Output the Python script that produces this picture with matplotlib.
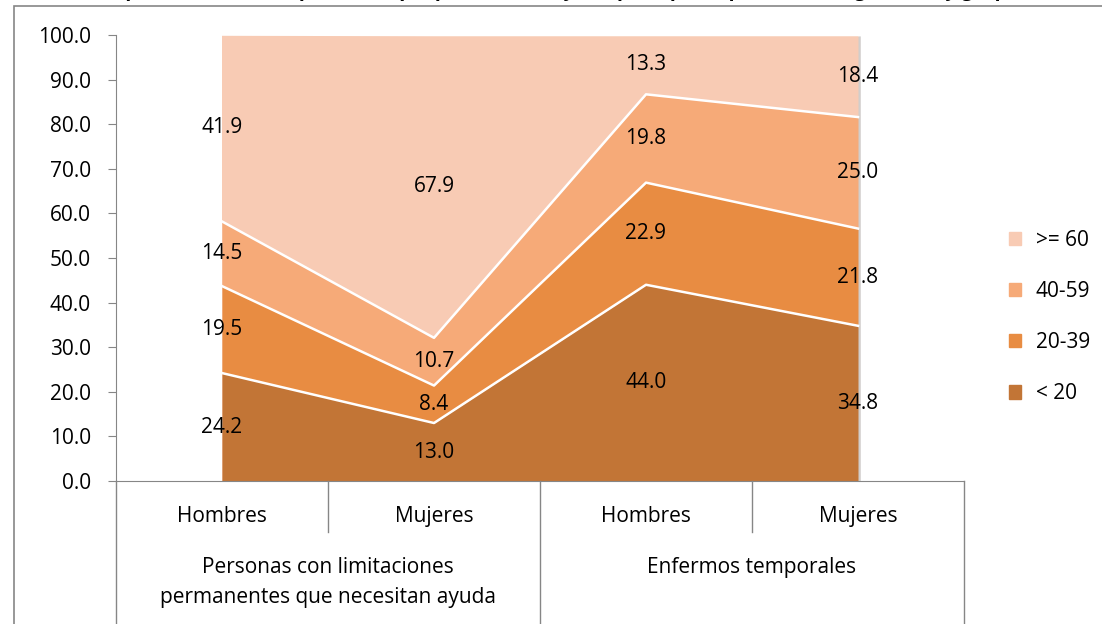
import numpy as np
import matplotlib.pyplot as plt
from matplotlib.patches import Patch, Rectangle
from matplotlib import patheffects as pe
import matplotlib.transforms as mtransforms

plt.rcParams['font.family'] = ['Open Sans', 'DejaVu Sans']

# datos: porcentaje por grupo de edad
categorias = ['Hombres', 'Mujeres', 'Hombres', 'Mujeres']
grupos = ['Personas con limitaciones\npermanentes que necesitan ayuda', 'Enfermos temporales']
edades = ['< 20', '20-39', '40-59', '>= 60']
menor_20 = [24.2, 13.0, 44.0, 34.8]
e20_39 = [19.5, 8.4, 22.9, 21.8]
e40_59 = [14.5, 10.7, 19.8, 25.0]
mayor_60 = [41.9, 67.9, 13.3, 18.4]
colores = ['#C27536', '#E88C42', '#F6AA78', '#F8CBB4']

titulo = ('Distribución porcentual de las personas que precisan de ayuda por tipo de problema, '
          'según sexo y grupo de edad')

series = np.array([menor_20, e20_39, e40_59, mayor_60])
x = np.arange(len(categorias))
fs = 15

fig = plt.figure(figsize=(11.02, 6.24), dpi=100)
ax = fig.add_axes([116/1102, 1-481/624, (964-116)/1102, (481-35)/624])

# sombra bajo el conjunto apilado
total = series.sum(axis=0)
ax.fill_between(x, 0, total, color=colores[3], lw=0, zorder=1,
                path_effects=[pe.SimplePatchShadow(offset=(2, -1), alpha=0.25), pe.Normal()])

base = np.zeros(len(x))
for i, s in enumerate(series):
    top = base + s
    ax.fill_between(x, base, top, color=colores[i], lw=0, zorder=2)
    ax.plot(x, top, color='white', lw=1.8, zorder=3)
    for j in range(len(x)):
        ax.text(x[j], base[j] + s[j]/2, f'{s[j]:.1f}',
                ha='center', va='center', fontsize=fs, color='black', zorder=4)
    base = top

ax.set_xlim(-0.5, 3.5)
ax.set_ylim(0, 100)
ax.set_yticks(np.arange(0, 101, 10))
ax.set_yticklabels([f'{v:.1f}' for v in np.arange(0, 101, 10)], fontsize=fs)
ax.set_xticks([])
for lado in ['top', 'right']:
    ax.spines[lado].set_visible(False)
for lado in ['left', 'bottom']:
    ax.spines[lado].set_color('#868686')
ax.tick_params(axis='y', length=6, color='#868686', pad=12)

# ejes de categorías en dos niveles
trans = mtransforms.blended_transform_factory(ax.transData, ax.transAxes)
for xs in [0.5, 2.5]:
    ax.plot([xs, xs], [0, -0.115], transform=trans, color='#868686', lw=1, clip_on=False)
for xs in [-0.5, 1.5, 3.5]:
    ax.plot([xs, xs], [0, -0.33], transform=trans, color='#868686', lw=1, clip_on=False)
for j, c in enumerate(categorias):
    ax.text(x[j], -0.08, c, transform=trans, ha='center', va='center', fontsize=fs)
for k, g in enumerate(grupos):
    ax.text(0.5 + 2*k, -0.17, g, transform=trans, ha='center', va='top',
            fontsize=fs, linespacing=1.55)

# leyenda
handles = [Patch(color=colores[i], label=edades[i]) for i in range(3, -1, -1)]
fig.legend(handles=handles, loc='center left', bbox_to_anchor=(990/1102, 1-317/624),
           frameon=False, fontsize=fs, handlelength=0.6, handleheight=0.6,
           handletextpad=0.7, labelspacing=1.45)

# marco del gráfico y título (el título queda casi fuera del lienzo)
fig.patches.append(Rectangle((14/1102, -0.1), 1.2, 1 - 6/624 + 0.1, transform=fig.transFigure,
                             fill=False, edgecolor='#868686', lw=1.2))
fig.text(551/1102, 1 + 4/624, titulo, ha='center', va='baseline', fontsize=14,
         fontweight='bold')

fig.savefig('out.png', dpi=100)
